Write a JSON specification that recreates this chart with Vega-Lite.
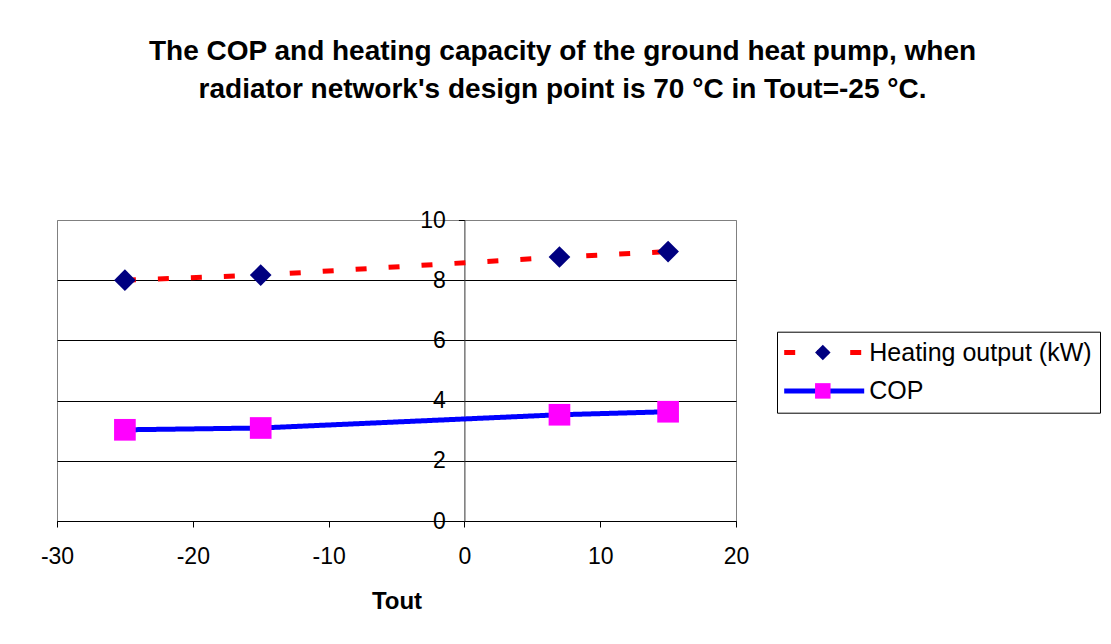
{
  "$schema": "https://vega.github.io/schema/vega-lite/v6.json",
  "width": 679,
  "height": 301,
  "autosize": {"type": "none"},
  "padding": {"left": 57, "top": 220, "right": 375, "bottom": 123},
  "background": "white",
  "title": {
    "text": [
      "The COP and heating capacity of the ground heat pump, when",
      "radiator network's design point is 70 °C in Tout=-25 °C."
    ],
    "font": "Liberation Sans",
    "fontSize": 28,
    "fontWeight": "bold",
    "color": "black",
    "lineHeight": 38,
    "anchor": "middle",
    "frame": "group",
    "dx": 166,
    "offset": 105
  },
  "data": {
    "values": [
      {"series": "Heating output (kW)", "Tout": -25, "value": 8.0},
      {"series": "Heating output (kW)", "Tout": -15, "value": 8.17},
      {"series": "Heating output (kW)", "Tout": 7, "value": 8.77},
      {"series": "Heating output (kW)", "Tout": 15, "value": 8.95},
      {"series": "COP", "Tout": -25, "value": 3.03},
      {"series": "COP", "Tout": -15, "value": 3.09},
      {"series": "COP", "Tout": 7, "value": 3.53},
      {"series": "COP", "Tout": 15, "value": 3.63}
    ]
  },
  "encoding": {
    "x": {
      "field": "Tout",
      "type": "quantitative",
      "scale": {"domain": [-30, 20], "nice": false, "zero": false},
      "axis": {
        "title": "Tout",
        "values": [-30, -20, -10, 0, 10, 20],
        "labelExpr": "toString(datum.value)",
        "labelFlush": false,
        "grid": false,
        "domainColor": "black",
        "tickColor": "black",
        "tickSize": 6,
        "labelFontSize": 23,
        "labelPadding": 18,
        "labelColor": "black",
        "labelFont": "Liberation Sans",
        "titleFont": "Liberation Sans",
        "titleFontSize": 24,
        "titleFontWeight": "bold",
        "titleColor": "black",
        "titlePadding": 21
      }
    },
    "y": {
      "field": "value",
      "type": "quantitative",
      "scale": {"domain": [0, 10], "nice": false},
      "axis": {
        "title": null,
        "orient": "left",
        "offset": -407.4,
        "values": [0, 2, 4, 6, 8, 10],
        "grid": true,
        "gridColor": {"condition": {"test": "datum.value === 10", "value": "#808080"}, "value": "black"},
        "gridWidth": 1,
        "domainColor": "#333333",
        "tickColor": "black",
        "tickSize": 6,
        "labelFontSize": 23,
        "labelPadding": 13,
        "labelColor": "black",
        "labelFont": "Liberation Sans"
      }
    }
  },
  "layer": [
    {
      "mark": {"type": "line", "strokeWidth": 5, "strokeCap": "butt"},
      "encoding": {
        "stroke": {
          "field": "series",
          "type": "nominal",
          "scale": {"domain": ["Heating output (kW)", "COP"], "range": ["#FF0000", "#0000FF"]},
          "legend": {
            "orient": "none",
            "legendX": 720,
            "legendY": 111.7,
            "title": null,
            "symbolType": "M-1.7,0H8.3",
            "symbolSize": 256,
            "symbolStrokeWidth": 5,
            "labelOffset": 59,
            "labelFontSize": 25,
            "labelFont": "Liberation Sans",
            "labelColor": "black",
            "labelLimit": 400,
            "strokeColor": "black",
            "padding": 8.3,
            "rowPadding": 12.4
          }
        },
        "strokeDash": {
          "field": "series",
          "type": "nominal",
          "scale": {"domain": ["Heating output (kW)", "COP"], "range": [[11, 22], [1, 0]]},
          "legend": {
            "orient": "none",
            "legendX": 720,
            "legendY": 111.7,
            "title": null,
            "symbolType": "M-1.7,0H8.3",
            "symbolSize": 256,
            "symbolStrokeWidth": 5,
            "labelOffset": 59,
            "labelFontSize": 25,
            "labelFont": "Liberation Sans",
            "labelColor": "black",
            "labelLimit": 400,
            "strokeColor": "black",
            "padding": 8.3,
            "rowPadding": 12.4
          }
        }
      }
    },
    {
      "mark": {"type": "point", "filled": true, "size": 470, "opacity": 1, "strokeWidth": 0},
      "encoding": {
        "fill": {
          "field": "series",
          "type": "nominal",
          "sort": "descending",
          "scale": {"range": ["#000080", "#FF00FF"]},
          "legend": {
            "orient": "none",
            "legendX": 745,
            "legendY": 111.7,
            "title": null,
            "symbolSize": 240,
            "symbolStrokeWidth": 0,
            "labelFontSize": 25,
            "labelExpr": "''",
            "padding": 8.3,
            "rowPadding": 12.4
          }
        },
        "shape": {
          "field": "series",
          "type": "nominal",
          "sort": "descending",
          "scale": {"range": ["diamond", "square"]},
          "legend": {
            "orient": "none",
            "legendX": 745,
            "legendY": 111.7,
            "title": null,
            "symbolSize": 240,
            "symbolStrokeWidth": 0,
            "labelFontSize": 25,
            "labelExpr": "''",
            "padding": 8.3,
            "rowPadding": 12.4
          }
        }
      }
    }
  ],
  "config": {
    "font": "Liberation Sans",
    "view": {"stroke": "#808080", "strokeWidth": 1}
  }
}
